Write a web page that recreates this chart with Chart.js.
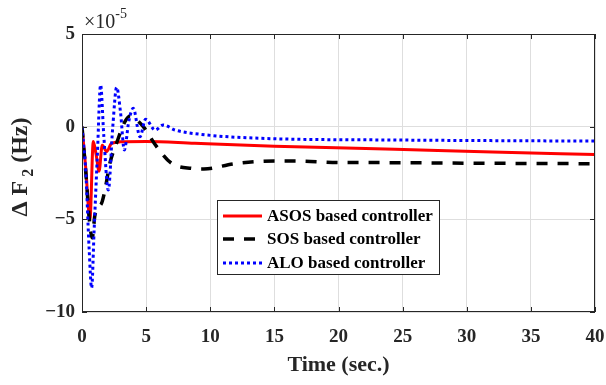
<!DOCTYPE html>
<html>
<head>
<meta charset="utf-8">
<script src="https://cdn.jsdelivr.net/npm/chart.js@4"></script>
<style>
  html, body { margin: 0; padding: 0; background: #fff; }
  #wrap { width: 606px; height: 385px; }
</style>
</head>
<body>
<div id="wrap"><canvas id="freqChart" width="606" height="385"></canvas></div>
<script>
// values in units of 1e-5 Hz
const asosTime   = [0, 0.3, 0.62, 0.88, 1.1, 1.33, 1.58, 1.92, 2.3, 3, 5, 8.8, 15, 24.4, 32, 40];
const asosValues = [0, -2.3, -5.0, -0.8, -1.5, -2.4, -1.0, -1.35, -0.9, -0.82, -0.8, -0.9, -1.05, -1.22, -1.37, -1.5];

const sosTime   = [0, 0.3, 0.6, 0.8, 1.0, 1.27, 1.53, 1.79, 2.18, 2.7, 3.35, 3.74, 4.2, 4.78, 5.82, 6.99, 8.55, 9.5, 11.9, 15, 16.6, 20.2, 23.4, 30, 40];
const sosValues = [0, -2.5, -5.2, -6.0, -4.8, -4.35, -4.13, -3.42, -1.96, -0.88, 0.27, 0.58, 0.4, 0, -1.08, -1.98, -2.25, -2.28, -2.0, -1.85, -1.85, -1.94, -1.94, -1.97, -2.0];

const aloTime   = [0, 0.3, 0.55, 0.75, 0.95, 1.2, 1.45, 1.7, 2.05, 2.4, 2.7, 3.0, 3.3, 3.65, 4.0, 4.52, 4.96, 5.7, 6.34, 7.25, 9.33, 14, 24.4, 40];
const aloValues = [0, -2.5, -6.5, -8.7, -5.5, -1.5, 2.25, -0.5, -3.42, 0.0, 2.12, 0.8, -1.26, 0.3, 0.99, -0.54, 0.4, -0.18, 0.09, -0.18, -0.42, -0.63, -0.72, -0.78];

const seriesNames = ['ASOS based controller', 'SOS based controller', 'ALO based controller'];
const xTicks = [0, 5, 10, 15, 20, 25, 30, 35, 40];
const yTicks = [-10, -5, 0, 5];

const serif = '"Liberation Serif", "Times New Roman", serif';

function toPoints(xs, ys) {
    return xs.map((x, i) => ({ x: x, y: ys[i] }));
}

// box, inward ticks, exponent label, y title and legend drawn MATLAB-style
const matlabPlugin = {
    id: 'matlabLook',
    afterDraw(chart) {
        const ctx = chart.ctx;
        const a = chart.chartArea;
        const xs = chart.scales.x, ys = chart.scales.y;
        ctx.save();

        // axis box
        ctx.strokeStyle = '#262626';
        ctx.lineWidth = 1;
        ctx.strokeRect(a.left + 0.5, a.top + 0.5, a.right - a.left - 1, a.bottom - a.top - 1);

        // inward ticks
        ctx.beginPath();
        xTicks.forEach(t => {
            const px = Math.round(xs.getPixelForValue(t)) + 0.5;
            ctx.moveTo(px, a.bottom); ctx.lineTo(px, a.bottom - 5);
            ctx.moveTo(px, a.top); ctx.lineTo(px, a.top + 5);
        });
        yTicks.forEach(t => {
            const py = Math.round(ys.getPixelForValue(t)) + 0.5;
            ctx.moveTo(a.left, py); ctx.lineTo(a.left + 5, py);
            ctx.moveTo(a.right, py); ctx.lineTo(a.right - 5, py);
        });
        ctx.stroke();

        // x10^-5
        ctx.fillStyle = '#262626';
        ctx.textBaseline = 'alphabetic';
        ctx.textAlign = 'left';
        ctx.font = '20px ' + serif;
        ctx.fillText('\u00d710', a.left + 2, 28);
        const w = ctx.measureText('\u00d710').width;
        ctx.font = '14px ' + serif;
        ctx.fillText('-5', a.left + 2 + w, 18);

        // y axis title with subscript
        ctx.save();
        ctx.translate(27, 167);
        ctx.rotate(-Math.PI / 2);
        ctx.fillStyle = '#262626';
        const parts = [['\u0394 F', 'bold 24px ', 0], [' 2', 'bold 16px ', 6], [' (Hz)', 'bold 24px ', 0]];
        let total = 0;
        parts.forEach(p => { ctx.font = p[1] + serif; total += ctx.measureText(p[0]).width; });
        let cx = -total / 2;
        parts.forEach(p => {
            ctx.font = p[1] + serif;
            ctx.fillText(p[0], cx, p[2]);
            cx += ctx.measureText(p[0]).width;
        });
        ctx.restore();

        // legend
        const lx = 217, ly = 200, lw = 222, lh = 74;
        ctx.fillStyle = '#fff';
        ctx.fillRect(lx, ly, lw, lh);
        ctx.strokeStyle = '#262626';
        ctx.lineWidth = 1;
        ctx.strokeRect(lx + 0.5, ly + 0.5, lw, lh);
        const rows = [216, 239, 263];
        chart.data.datasets.forEach((ds, i) => {
            ctx.beginPath();
            ctx.strokeStyle = ds.borderColor;
            ctx.lineWidth = ds.borderWidth;
            ctx.setLineDash(ds.borderDash || []);
            ctx.moveTo(223, rows[i]);
            ctx.lineTo(262, rows[i]);
            ctx.stroke();
            ctx.setLineDash([]);
            ctx.fillStyle = '#000';
            ctx.font = 'bold 17px ' + serif;
            ctx.textBaseline = 'middle';
            ctx.fillText(ds.label, 267, rows[i] + 1);
        });
        ctx.restore();
    }
};

document.addEventListener('DOMContentLoaded', () => {
    const ctx = document.getElementById('freqChart');
    new Chart(ctx, {
        type: 'line',
        data: {
            datasets: [{
                label: seriesNames[0],
                data: toPoints(asosTime, asosValues),
                borderColor: '#ff0000',
                borderWidth: 3,
                order: 3
            }, {
                label: seriesNames[1],
                data: toPoints(sosTime, sosValues),
                borderColor: '#000000',
                borderWidth: 3.5,
                borderDash: [11, 10],
                order: 2
            }, {
                label: seriesNames[2],
                data: toPoints(aloTime, aloValues),
                borderColor: '#0000ff',
                borderWidth: 3,
                borderDash: [3, 3],
                order: 1
            }]
        },
        options: {
            responsive: false,
            animation: false,
            devicePixelRatio: 1,
            layout: { padding: { top: 34, right: 11, bottom: 0, left: 0 } },
            elements: {
                point: { radius: 0 },
                line: { cubicInterpolationMode: 'monotone', fill: false }
            },
            plugins: {
                legend: { display: false },
                tooltip: { enabled: false }
            },
            scales: {
                x: {
                    type: 'linear',
                    min: 0,
                    max: 40,
                    afterFit: s => { s.height = 73; s.paddingRight = 0; s.paddingLeft = 0; },
                    afterBuildTicks: s => { s.ticks = xTicks.map(v => ({ value: v })); },
                    grid: { color: '#dedede', drawTicks: false },
                    border: { display: false },
                    ticks: {
                        color: '#262626',
                        padding: 14,
                        maxRotation: 0,
                        font: { family: serif, size: 19, weight: 'bold' }
                    },
                    title: {
                        display: true,
                        text: 'Time (sec.)',
                        color: '#262626',
                        padding: { top: 0, bottom: 6 },
                        font: { family: serif, size: 22, weight: 'bold' }
                    }
                },
                y: {
                    min: -10,
                    max: 5,
                    afterFit: s => { s.width = 82; s.paddingTop = 0; s.paddingBottom = 0; },
                    afterBuildTicks: s => { s.ticks = yTicks.map(v => ({ value: v })); },
                    grid: { color: '#dedede', drawTicks: false },
                    border: { display: false },
                    ticks: {
                        color: '#262626',
                        padding: 7,
                        font: { family: serif, size: 19, weight: 'bold' },
                        callback: v => (v < 0 ? '\u2212' + Math.abs(v) : String(v))
                    }
                }
            }
        },
        plugins: [matlabPlugin]
    });
});
</script>
</body>
</html>
